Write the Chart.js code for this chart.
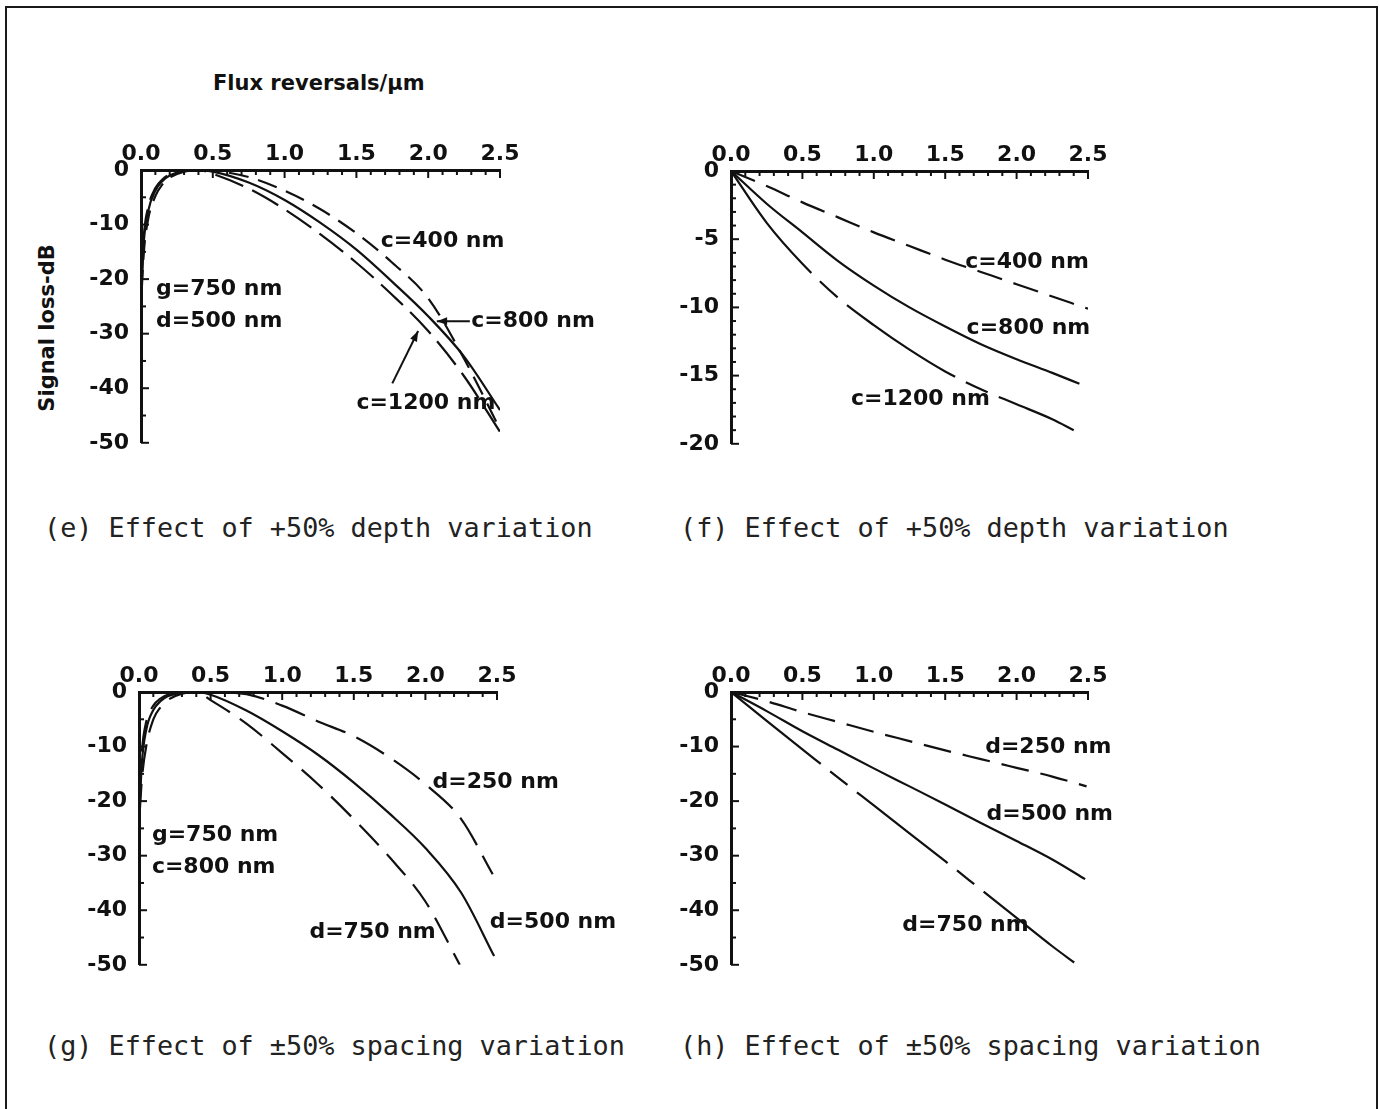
<!DOCTYPE html>
<html lang="en">
<head>
<meta charset="UTF-8">
<title>Signal loss vs flux reversals</title>
<script src="https://cdn.jsdelivr.net/npm/chart.js"></script>
<style>
  body { margin: 0; width: 1380px; height: 1109px; overflow: hidden; background: #fff; position: relative; color: #111; }
  #frame { position: absolute; left: 5px; top: 6px; width: 1369px; height: 1200px; border: 2px solid #1a1a1a; }
  canvas { position: absolute; }
  .caption { position: absolute; font-family: 'DejaVu Sans Mono', monospace; font-size: 26.8px; line-height: 32px; color: #222; white-space: pre; }
  #xTitle { position: absolute; left: 213px; top: 70px; font-family: 'DejaVu Sans', sans-serif; font-weight: bold; font-size: 21px; line-height: 26px; white-space: pre; }
  #yTitle { position: absolute; left: 47px; top: 328px; font-family: 'DejaVu Sans', sans-serif; font-weight: bold; font-size: 21px; line-height: 26px; white-space: pre;
            transform: translate(-50%, -50%) rotate(-90deg); }
</style>
</head>
<body>
<div id="frame"></div>
<div id="xTitle">Flux reversals/µm</div>
<div id="yTitle">Signal loss-dB</div>

<canvas id="chartE" width="640" height="360"></canvas>
<canvas id="chartF" width="640" height="360"></canvas>
<canvas id="chartG" width="640" height="360"></canvas>
<canvas id="chartH" width="640" height="360"></canvas>

<div class="caption" style="left:44px; top:512px;">(e) Effect of +50% depth variation</div>
<div class="caption" style="left:680px; top:512px;">(f) Effect of +50% depth variation</div>
<div class="caption" style="left:44px; top:1030px;">(g) Effect of ±50% spacing variation</div>
<div class="caption" style="left:680px; top:1030px;">(h) Effect of ±50% spacing variation</div>

<script>
// ---- data (x = flux reversals/µm, y = signal loss in dB) ----

// (e) +50% depth variation, g=750 nm, d=500 nm
const xE = [0.005, 0.02, 0.05, 0.1, 0.15, 0.2, 0.3, 0.4, 0.5, 0.75, 1.0, 1.25, 1.5, 1.75, 2.0, 2.25, 2.5];
const eC400 = [-22, -15, -9, -4.8, -2.6, -1.4, -0.3, 0, -0.1, -1.3, -3.8, -7.2, -11.6, -17.0, -23.5, -34.6, -47.5];
const eC800 = [-21, -13, -7.5, -3.8, -2.0, -1.0, -0.2, 0, -0.3, -2.3, -5.5, -9.7, -14.6, -20.5, -26.8, -34.2, -44.0];
const eC1200 = [-20, -12, -6.8, -3.3, -1.7, -0.8, -0.1, 0, -0.7, -3.4, -7.2, -11.8, -17.0, -22.9, -29.5, -37.8, -48.0];

// (f) +50% depth variation
const xF400 = [0, 0.25, 0.5, 0.75, 1.0, 1.25, 1.5, 1.75, 2.0, 2.25, 2.5];
const xF800 = [0, 0.25, 0.5, 0.75, 1.0, 1.25, 1.5, 1.75, 2.0, 2.25, 2.44];
const xF1200 = [0, 0.25, 0.5, 0.75, 1.0, 1.25, 1.5, 1.75, 2.0, 2.25, 2.4];
const fC400 = [0, -1.1, -2.3, -3.4, -4.5, -5.5, -6.5, -7.4, -8.3, -9.2, -10.1];
const fC800 = [0, -2.4, -4.5, -6.6, -8.4, -10.0, -11.4, -12.7, -13.8, -14.8, -15.6];
const fC1200 = [0, -3.8, -6.8, -9.3, -11.3, -13.1, -14.7, -16.0, -17.1, -18.2, -19.0];

// (g) ±50% spacing variation, g=750 nm, c=800 nm
const xG250 = [0.005, 0.02, 0.05, 0.1, 0.15, 0.2, 0.3, 0.4, 0.5, 0.75, 1.0, 1.25, 1.5, 1.75, 2.0, 2.25, 2.47];
const xG500 = [0.005, 0.02, 0.05, 0.1, 0.15, 0.2, 0.3, 0.4, 0.5, 0.75, 1.0, 1.25, 1.5, 1.75, 2.0, 2.25, 2.48];
const xG750 = [0.005, 0.02, 0.05, 0.1, 0.15, 0.2, 0.3, 0.4, 0.5, 0.75, 1.0, 1.25, 1.5, 1.75, 2.0, 2.24];
const gD250 = [-19, -11, -5.5, -2.5, -1.2, -0.5, 0, 0, 0, -0.4, -2.5, -5.4, -8.1, -12.0, -16.9, -23.3, -33.4];
const gD500 = [-21, -13, -7, -3.3, -1.7, -0.8, -0.1, 0, -0.5, -3.4, -7.2, -11.5, -16.6, -22.3, -28.6, -36.8, -48.4];
const gD750 = [-22, -16, -10, -5, -2.8, -1.5, -0.3, 0, -1.5, -5.8, -11.2, -16.9, -23.3, -30.3, -38.4, -50];

// (h) ±50% spacing variation
const xH250 = [0, 0.25, 0.5, 0.75, 1.0, 1.25, 1.5, 1.75, 2.0, 2.25, 2.49];
const xH500 = [0, 0.25, 0.5, 0.75, 1.0, 1.25, 1.5, 1.75, 2.0, 2.25, 2.48];
const xH750 = [0, 0.25, 0.5, 0.75, 1.0, 1.25, 1.5, 1.75, 2.0, 2.25, 2.42];
const hD250 = [0, -1.7, -3.7, -5.5, -7.3, -9.0, -10.7, -12.3, -13.9, -15.5, -17.3];
const hD500 = [0, -3.5, -7.2, -10.6, -14.0, -17.3, -20.6, -24.0, -27.3, -30.7, -34.3];
const hD750 = [0, -5.3, -10.5, -15.7, -20.8, -25.9, -31.0, -36.2, -41.4, -46.6, -49.9];

// curve labels: [text, x, y] in data units
const notesE = [['c=400 nm', 1.67, -13.0], ['g=750 nm', 0.105, -21.8], ['d=500 nm', 0.105, -27.7],
                ['c=800 nm', 2.30, -27.7], ['c=1200 nm', 1.50, -42.7]];
const arrowsE = [[2.29, -27.7, 2.06, -27.7], [1.75, -39.1, 1.93, -29.5]];
const notesF = [['c=400 nm', 1.64, -6.7], ['c=800 nm', 1.65, -11.5], ['c=1200 nm', 0.84, -16.7]];
const notesG = [['d=250 nm', 2.05, -16.5], ['g=750 nm', 0.09, -26.2], ['c=800 nm', 0.09, -32.2],
                ['d=750 nm', 1.19, -44.1], ['d=500 nm', 2.45, -42.2]];
const notesH = [['d=250 nm', 1.78, -10.1], ['d=500 nm', 1.79, -22.5], ['d=750 nm', 1.20, -42.8]];

const INK = '#111';
const FONT = "'DejaVu Sans', sans-serif";

function series(xs, ys, dash) {
    return {
        data: xs.map((x, i) => ({ x: x, y: ys[i] })),
        borderColor: INK,
        borderWidth: 2.2,
        borderDash: dash,
        pointRadius: 0,
        fill: false,
        cubicInterpolationMode: 'monotone'
    };
}

// small inward ticks on the top and left axes
const inTicks = {
    id: 'inTicks',
    afterDraw(chart, args, opts) {
        const { ctx, chartArea: a, scales: { x, y } } = chart;
        ctx.save();
        ctx.strokeStyle = INK;
        ctx.lineWidth = 2;
        for (let i = 0; i <= 25; i++) {
            const px = x.getPixelForValue(i / 10);
            const len = i % 5 === 0 ? 8 : 5;
            ctx.beginPath();
            ctx.moveTo(px, a.top);
            ctx.lineTo(px, a.top + len);
            ctx.stroke();
        }
        for (let v = 0; v >= y.min; v -= opts.minor) {
            const py = y.getPixelForValue(v);
            const len = v % opts.major === 0 ? 8 : 5;
            ctx.beginPath();
            ctx.moveTo(a.left, py);
            ctx.lineTo(a.left + len, py);
            ctx.stroke();
        }
        ctx.restore();
    }
};

// curve labels and arrows
const notes = {
    id: 'notes',
    afterDraw(chart, args, opts) {
        const { ctx, scales: { x, y } } = chart;
        ctx.save();
        ctx.fillStyle = INK;
        ctx.font = 'bold 22px ' + FONT;
        ctx.textAlign = 'left';
        ctx.textBaseline = 'middle';
        (opts.text || []).forEach(([t, vx, vy]) => {
            ctx.fillText(t, x.getPixelForValue(vx), y.getPixelForValue(vy));
        });
        ctx.strokeStyle = INK;
        ctx.lineWidth = 2;
        (opts.arrows || []).forEach(([x1, y1, x2, y2]) => {
            const ax = x.getPixelForValue(x1), ay = y.getPixelForValue(y1);
            const bx = x.getPixelForValue(x2), by = y.getPixelForValue(y2);
            const ang = Math.atan2(by - ay, bx - ax);
            ctx.beginPath();
            ctx.moveTo(ax, ay);
            ctx.lineTo(bx, by);
            ctx.stroke();
            ctx.beginPath();
            ctx.moveTo(bx, by);
            ctx.lineTo(bx - 11 * Math.cos(ang - 0.35), by - 11 * Math.sin(ang - 0.35));
            ctx.lineTo(bx - 11 * Math.cos(ang + 0.35), by - 11 * Math.sin(ang + 0.35));
            ctx.closePath();
            ctx.fill();
        });
        ctx.restore();
    }
};

function makePanel(id, area, yMin, yStep, yMinor, datasets, text, arrows) {
    const cv = document.getElementById(id);
    const left = area.l - 91, top = area.t - 62;
    cv.style.left = left + 'px';
    cv.style.top = top + 'px';
    new Chart(cv.getContext('2d'), {
        type: 'line',
        data: { datasets: datasets },
        plugins: [inTicks, notes],
        options: {
            responsive: false,
            animation: false,
            layout: { padding: { left: 0, top: 0, right: left + cv.width - area.r, bottom: top + cv.height - area.b } },
            plugins: {
                legend: { display: false },
                tooltip: { enabled: false },
                inTicks: { minor: yMinor, major: yStep },
                notes: { text: text, arrows: arrows }
            },
            scales: {
                x: {
                    type: 'linear', position: 'top', min: 0, max: 2.5,
                    grid: { display: false, drawTicks: false },
                    border: { display: true, width: 3, color: INK },
                    ticks: { stepSize: 0.5, padding: 3, color: INK, font: { family: FONT, size: 22, weight: 'bold' },
                             maxRotation: 0, callback: v => v.toFixed(1) },
                    afterFit: s => { s.height = 62; }
                },
                y: {
                    type: 'linear', min: yMin, max: 0,
                    grid: { display: false, drawTicks: false },
                    border: { display: true, width: 3, color: INK },
                    ticks: { stepSize: yStep, padding: 12, color: INK, font: { family: FONT, size: 22, weight: 'bold' },
                             callback: v => String(v) },
                    afterFit: s => { s.width = 91; }
                }
            }
        }
    });
}

makePanel('chartE', { l: 141, t: 170, r: 500, b: 443 }, -50, 10, 5,
    [series(xE, eC400, [20, 10]), series(xE, eC800, []), series(xE, eC1200, [30, 10])], notesE, arrowsE);
makePanel('chartF', { l: 731, t: 171, r: 1088, b: 446 }, -20, 5, 1,
    [series(xF400, fC400, [26, 12]), series(xF800, fC800, []), series(xF1200, fC1200, [130, 12, 24, 12])], notesF, []);
makePanel('chartG', { l: 139, t: 692, r: 497, b: 971 }, -50, 10, 5,
    [series(xG250, gD250, [32, 12]), series(xG500, gD500, []), series(xG750, gD750, [28, 12])], notesG, []);
makePanel('chartH', { l: 731, t: 692, r: 1088, b: 973 }, -50, 10, 5,
    [series(xH250, hD250, [28, 12]), series(xH500, hD500, []), series(xH750, hD750, [115, 12, 22, 12])], notesH, []);
</script>
</body>
</html>
